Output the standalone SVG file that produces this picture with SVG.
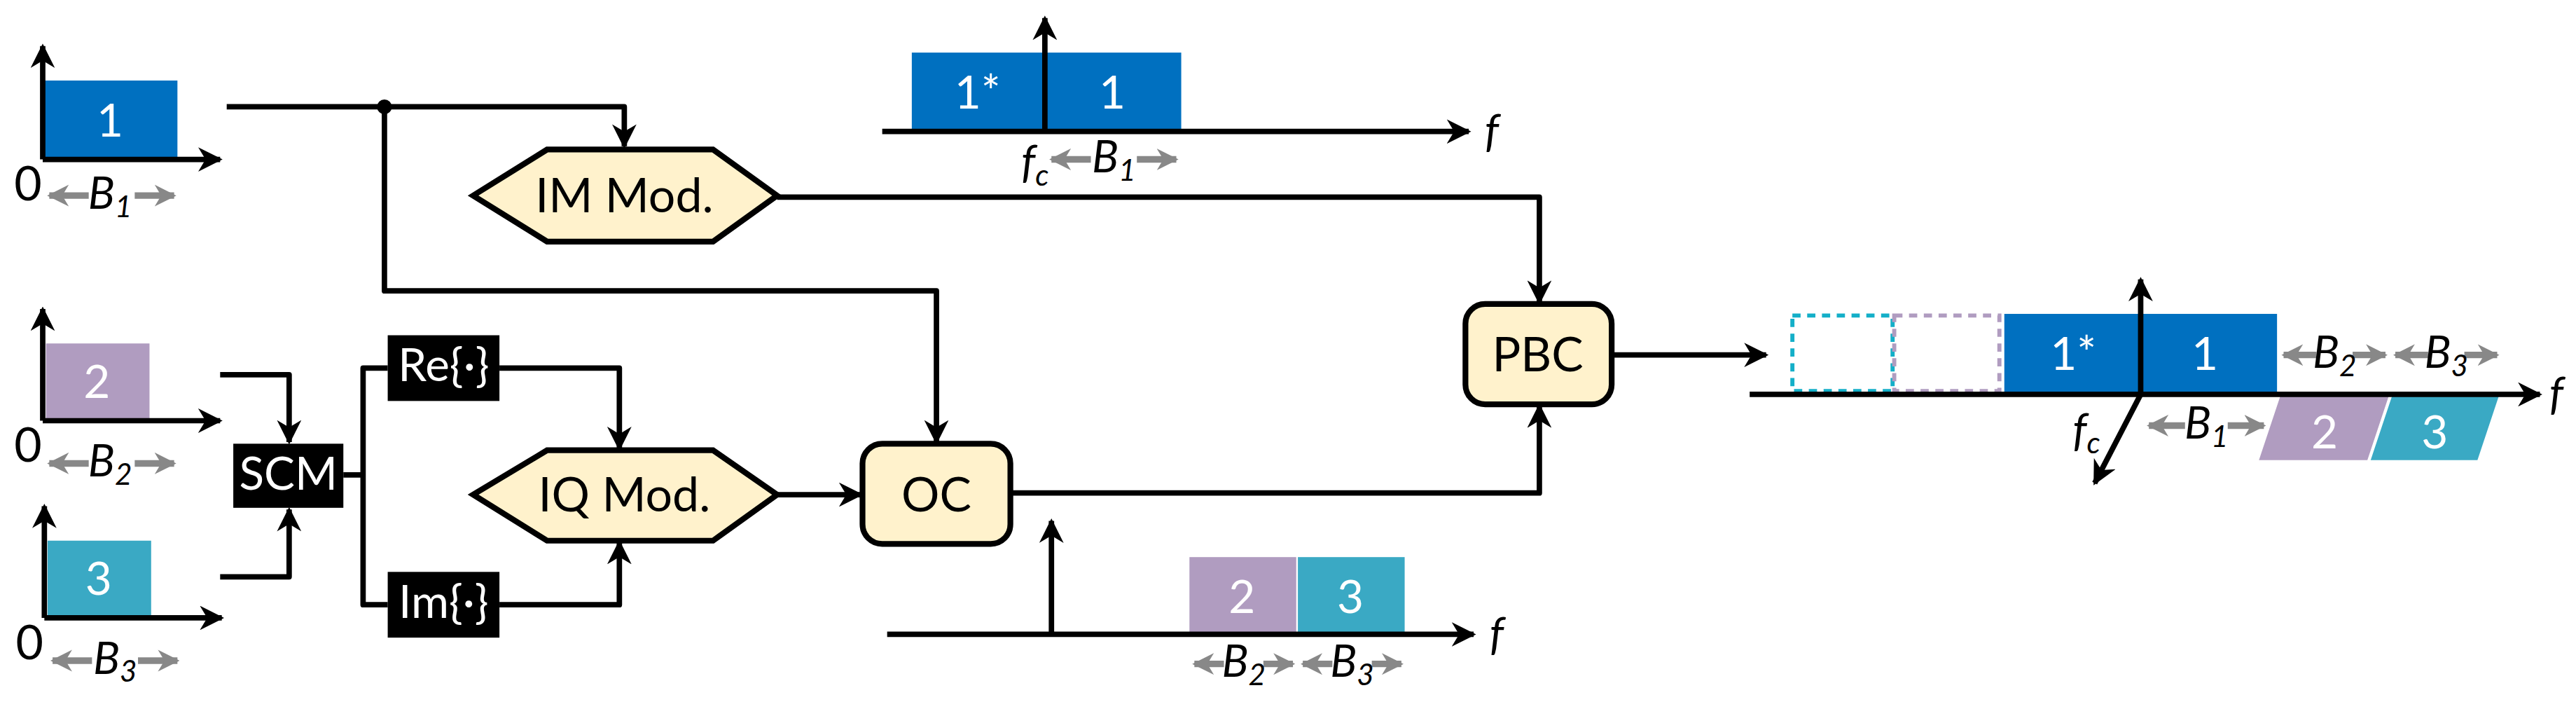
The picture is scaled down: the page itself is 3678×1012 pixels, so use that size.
<svg xmlns="http://www.w3.org/2000/svg" width="3678" height="1012" viewBox="0 0 3678 1012">
<style>
.l{fill:none;stroke:#000;stroke-width:3.3;stroke-linejoin:round}
.ar{marker-end:url(#ah)}
.g{fill:none;stroke:#888;stroke-width:4;marker-end:url(#gh)}
.t{font-family:Lato,"Open Sans",sans-serif;text-anchor:middle}
.w{fill:#fff;font-size:28px}
.b{fill:#000;font-size:29px}
.i{font-style:italic;font-size:27px;fill:#000}
.s{font-size:18px}
.node{fill:#fff2cc;stroke:#000;stroke-width:3.5}
.blk{fill:#000}
</style>
<defs>
<marker id="ah" viewBox="0 0 10 10" refX="9" refY="5" markerWidth="4.5" markerHeight="4.5" markerUnits="strokeWidth" orient="auto"><path d="M0,0L10,5L0,10L3,5Z" fill="#000"/></marker>
<marker id="gh" viewBox="0 0 10 10" refX="9" refY="5" markerWidth="3.3" markerHeight="3.6" markerUnits="strokeWidth" orient="auto"><path d="M0,0L10,5L0,10L3,5Z" fill="#888"/></marker>
</defs>
<g transform="scale(2.3457)">
<g id="spec1">
<rect x="27" y="49" width="81" height="48" fill="#0070c0"/>
<text class="t w" x="67" y="83">1</text>
<path class="l ar" d="M26,97V28"/><path class="l ar" d="M26,97H134"/>
<text class="t b" x="17" y="122">0</text>
<path class="g" d="M54,119H30"/><path class="g" d="M82,119H106"/>
<text class="t i" x="67" y="127">B<tspan class="s" dy="5">1</tspan></text>
</g>
<g id="spec2">
<rect x="28" y="209" width="63" height="46" fill="#b09cc0"/>
<text class="t w" x="59" y="242">2</text>
<path class="l ar" d="M26,256V188"/><path class="l ar" d="M26,256H134"/>
<text class="t b" x="17" y="281">0</text>
<path class="g" d="M54,282H30"/><path class="g" d="M82,282H106"/>
<text class="t i" x="67" y="290">B<tspan class="s" dy="5">2</tspan></text>
</g>
<g id="spec3">
<rect x="29" y="329" width="63" height="46" fill="#3aa9c4"/>
<text class="t w" x="60" y="362">3</text>
<path class="l ar" d="M27,376V308"/><path class="l ar" d="M27,376H135"/>
<text class="t b" x="18" y="401">0</text>
<path class="g" d="M56,402H32"/><path class="g" d="M84,402H108"/>
<text class="t i" x="70" y="410">B<tspan class="s" dy="5">3</tspan></text>
</g>
<g id="spec-top">
<rect x="555" y="32" width="164" height="47" fill="#0070c0"/>
<path class="l ar" d="M537,80H894"/><path class="l ar" d="M636,80V11"/>
<text class="t w" x="595" y="66">1*</text><text class="t w" x="677" y="66">1</text>
<text class="t i" x="908" y="89">f</text>
<text class="t i" x="630" y="108">f<tspan class="s" dy="5">c</tspan></text>
<path class="g" d="M664,97H640"/><path class="g" d="M692,97H716"/>
<text class="t i" x="678" y="105">B<tspan class="s" dy="5">1</tspan></text>
</g>
<g id="spec-bottom">
<rect x="724" y="339" width="65" height="46" fill="#b09cc0"/>
<rect x="790" y="339" width="65" height="46" fill="#3aa9c4"/>
<text class="t w" x="756" y="373">2</text><text class="t w" x="822" y="373">3</text>
<path class="l ar" d="M540,386H897"/><path class="l ar" d="M640,386V317"/>
<text class="t i" x="911" y="395">f</text>
<path class="g" d="M745,404H727"/><path class="g" d="M769,404H787"/>
<path class="g" d="M811,404H793"/><path class="g" d="M835,404H853"/>
<text class="t i" x="757" y="412">B<tspan class="s" dy="5">2</tspan></text>
<text class="t i" x="823" y="412">B<tspan class="s" dy="5">3</tspan></text>
</g>
<g id="spec-out">
<rect x="1091" y="192" width="61" height="46" fill="none" stroke="#14afc8" stroke-width="2.5" stroke-dasharray="5,4"/>
<rect x="1153" y="192" width="64" height="46" fill="none" stroke="#b09cc0" stroke-width="2.5" stroke-dasharray="5,4"/>
<rect x="1220" y="191" width="166" height="48" fill="#0070c0"/>
<text class="t w" x="1262" y="225">1*</text><text class="t w" x="1342" y="225">1</text>
<path d="M1388,241H1454L1441,280H1375Z" fill="#b09cc0"/>
<path d="M1456,241H1521L1508,280H1443Z" fill="#3aa9c4"/>
<text class="t w" x="1415" y="273">2</text><text class="t w" x="1482" y="273">3</text>
<path class="l ar" d="M1065,240H1546"/><path class="l ar" d="M1303,240V170"/>
<path class="l ar" d="M1303,240L1275,294"/>
<text class="t i" x="1556" y="249">f</text>
<text class="t i" x="1270" y="271">f<tspan class="s" dy="5">c</tspan></text>
<path class="g" d="M1330,259H1308"/><path class="g" d="M1356,259H1378"/>
<text class="t i" x="1343" y="267">B<tspan class="s" dy="5">1</tspan></text>
<path class="g" d="M1410,216H1390"/><path class="g" d="M1432,216H1452"/>
<path class="g" d="M1478,216H1458"/><path class="g" d="M1500,216H1520"/>
<text class="t i" x="1421" y="224">B<tspan class="s" dy="5">2</tspan></text>
<text class="t i" x="1489" y="224">B<tspan class="s" dy="5">3</tspan></text>
</g>
<g id="connectors">
<path class="l ar" d="M138,65H380V89"/>
<path class="l ar" d="M234,65V177H570V269"/>
<circle cx="234" cy="65" r="4.5" fill="#000"/>
<path class="l ar" d="M473,120H937V184"/>
<path class="l ar" d="M134,228H176V269"/>
<path class="l ar" d="M134,351H176V310"/>
<path class="l" d="M209,289H221M236,224H221V368H236"/>
<path class="l ar" d="M304,224H377V273"/>
<path class="l ar" d="M304,368H377V330"/>
<path class="l ar" d="M473,301H524"/>
<path class="l ar" d="M615,300H937V247"/>
<path class="l ar" d="M982,216H1075"/>
</g>
<g id="im-mod"><path class="node" d="M288,119L333,91H434L473,119L434,147H333Z"/><text class="t b" x="380" y="129">IM Mod.</text></g>
<g id="iq-mod"><path class="node" d="M288,301L333,274H434L473,301L434,329H333Z"/><text class="t b" x="380" y="311">IQ Mod.</text></g>
<g id="scm"><rect class="blk" x="142" y="270" width="67" height="39"/><text class="t w" x="175.5" y="298" font-size="23">SCM</text></g>
<g id="re"><rect class="blk" x="236" y="204" width="68" height="40"/><text class="t w" x="270" y="232" font-size="23">Re{·}</text></g>
<g id="im"><rect class="blk" x="236" y="348" width="68" height="40"/><text class="t w" x="270" y="376" font-size="23">Im{·}</text></g>
<g id="oc"><rect class="node" x="525" y="270" width="90" height="61" rx="12"/><text class="t b" x="570" y="311">OC</text></g>
<g id="pbc"><rect class="node" x="892" y="185" width="89" height="61" rx="12"/><text class="t b" x="936" y="226">PBC</text></g>
</g>
</svg>
